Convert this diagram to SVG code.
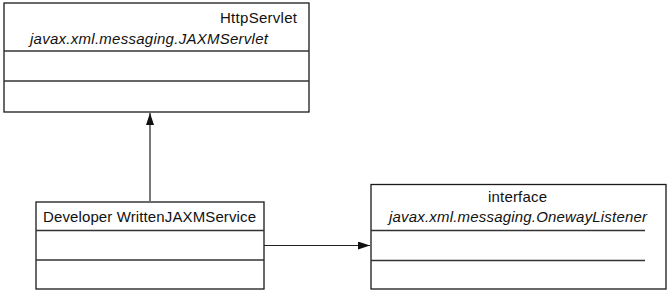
<svg xmlns="http://www.w3.org/2000/svg" width="672" height="293" viewBox="0 0 672 293">
<style>
.box{fill:#fff;stroke:#1a1a1a;stroke-width:1.3}
.sep{stroke:#333;stroke-width:1.3;fill:none}
.t{font-family:"Liberation Sans",Arial,sans-serif;font-size:15px;fill:#111}
.i{font-style:italic}
.conn{stroke:#222;stroke-width:1.2;fill:none}
</style>
<defs>
<marker id="ah" viewBox="0 0 12 8" refX="12" refY="4" markerWidth="12" markerHeight="8" markerUnits="userSpaceOnUse" orient="auto">
<path d="M0,0 L12,4 L0,8 Z" fill="#111"/>
</marker>
</defs>
<rect width="672" height="293" fill="#fff"/>
<g id="connectors">
<line class="conn" x1="150" y1="201" x2="150" y2="113" marker-end="url(#ah)"/>
<line class="conn" x1="264" y1="245.5" x2="370" y2="245.5" marker-end="url(#ah)"/>
</g>
<g id="jaxmservlet">
<rect class="box" x="4" y="3" width="305" height="109"/>
<line class="sep" x1="4" y1="51" x2="309" y2="51"/>
<line class="sep" x1="4" y1="81" x2="309" y2="81"/>
<text class="t" x="297" y="23" text-anchor="end" textLength="77">HttpServlet</text>
<text class="t i" x="30" y="44" textLength="238">javax.xml.messaging.JAXMServlet</text>
</g>
<g id="developer">
<rect class="box" x="36" y="202" width="228" height="87"/>
<line class="sep" x1="36" y1="230.5" x2="264" y2="230.5"/>
<line class="sep" x1="36" y1="260" x2="264" y2="260"/>
<text class="t" x="43" y="222" textLength="213">Developer WrittenJAXMService</text>
</g>
<g id="onewaylistener">
<rect class="box" x="371" y="184.5" width="295" height="104.5"/>
<line class="sep" x1="371" y1="230.5" x2="645" y2="230.5"/>
<line class="sep" x1="371" y1="260.5" x2="645" y2="260.5"/>
<text class="t" x="517.5" y="202" text-anchor="middle" textLength="59">interface</text>
<text class="t i" x="389" y="222" textLength="258">javax.xml.messaging.OnewayListener</text>
</g>
</svg>
